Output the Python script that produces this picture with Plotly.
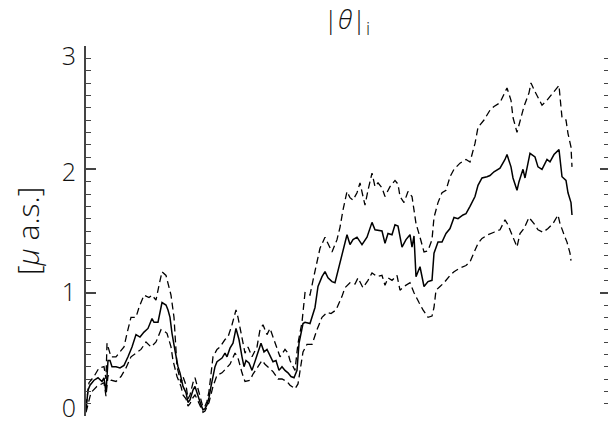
import plotly.graph_objects as go

# x positions are sample steps along the (unlabelled) horizontal axis
center_t = [0,2,4,8,12,16,18,20,22,24,26,30,34,38,42,46,50,54,58,62,66,68,72,76,80,82,84,86,89,92,94,97,100,102,104,107,109,111,113,115,117,119,121,123,125,127,129,131,133,136,139,141,144,147,150,153,156,158,160,163,166,169,172,175,178,181,184,187,190,193,196,199,202,205,208,211,213,215,217,219,224,229,232,236,239,242,246,249,252,256,261,264,267,271,276,281,286,289,296,299,302,306,309,312,316,320,324,326,328,330,334,338,342,346,348,352,356,360,364,368,372,377,380,384,389,392,396,401,404,408,414,419,421,425,427,431,433,437,439,442,444,449,452,456,461,464,468,473,474,476,480,482,485,486]
center_v = [0.05,0.21,0.25,0.29,0.31,0.28,0.31,0.19,0.45,0.45,0.40,0.40,0.39,0.41,0.48,0.56,0.66,0.64,0.68,0.71,0.79,0.76,0.76,0.92,0.90,0.86,0.80,0.67,0.53,0.40,0.35,0.24,0.19,0.11,0.13,0.21,0.24,0.19,0.13,0.09,0.05,0.06,0.09,0.15,0.24,0.32,0.40,0.44,0.45,0.47,0.51,0.48,0.55,0.59,0.71,0.62,0.48,0.40,0.45,0.43,0.37,0.45,0.52,0.59,0.52,0.54,0.49,0.44,0.45,0.37,0.40,0.37,0.35,0.32,0.31,0.37,0.59,0.67,0.75,0.76,0.75,0.88,1.05,1.13,1.17,1.12,1.09,1.08,1.18,1.32,1.47,1.39,1.43,1.45,1.39,1.45,1.57,1.51,1.50,1.40,1.48,1.47,1.55,1.54,1.37,1.43,1.47,1.37,1.46,1.13,1.21,1.05,1.09,1.10,1.32,1.41,1.41,1.48,1.52,1.61,1.60,1.63,1.64,1.70,1.78,1.87,1.93,1.94,1.95,1.98,2.01,2.08,2.12,2.02,1.93,1.83,1.90,2.00,1.93,2.05,2.13,2.10,2.02,2.00,2.08,2.06,2.12,2.16,2.08,1.94,1.91,1.81,1.73,1.63]

upper_t = [0,3,8,13,18,20,21,25,30,33,38,41,45,50,53,58,63,66,70,73,76,80,83,85,88,91,95,97,100,102,104,107,109,111,113,115,117,119,121,123,127,131,134,139,142,146,150,152,156,159,162,166,171,174,177,181,184,187,191,194,199,202,204,209,212,216,219,224,227,231,234,239,242,246,251,254,257,261,264,267,271,274,277,279,282,286,289,292,296,299,304,309,312,314,318,322,326,330,334,338,342,346,348,352,356,360,364,368,374,380,384,389,392,398,404,408,414,419,421,425,427,431,434,438,443,445,449,452,456,461,464,468,473,474,476,480,482,485,486]
upper_v = [0.08,0.27,0.32,0.39,0.40,0.30,0.59,0.48,0.48,0.51,0.56,0.67,0.80,0.80,0.88,0.98,0.96,0.98,0.94,1.06,1.17,1.14,1.05,0.98,0.80,0.40,0.27,0.32,0.25,0.14,0.17,0.27,0.31,0.25,0.17,0.12,0.07,0.08,0.12,0.20,0.48,0.54,0.56,0.62,0.64,0.74,0.86,0.80,0.62,0.51,0.56,0.48,0.56,0.70,0.74,0.66,0.71,0.64,0.54,0.48,0.54,0.51,0.45,0.37,0.59,0.76,1.00,0.98,1.10,1.24,1.36,1.45,1.40,1.33,1.43,1.53,1.67,1.82,1.77,1.75,1.81,1.89,1.78,1.71,1.83,1.97,1.86,1.89,1.85,1.78,1.86,1.91,1.88,1.78,1.73,1.82,1.78,1.56,1.45,1.33,1.34,1.43,1.61,1.73,1.81,1.83,1.94,2.00,2.05,2.08,2.06,2.21,2.34,2.40,2.48,2.51,2.54,2.62,2.66,2.56,2.42,2.30,2.40,2.51,2.62,2.70,2.63,2.58,2.52,2.56,2.59,2.63,2.68,2.59,2.42,2.40,2.29,2.18,2.02]

lower_t = [0,5,11,18,20,22,25,30,35,40,45,50,55,60,65,70,75,78,81,85,87,91,95,97,100,102,104,107,109,111,113,115,117,119,121,123,127,131,136,141,144,149,152,156,159,164,167,172,176,179,182,187,192,196,201,204,209,212,217,221,226,231,236,241,245,250,256,259,264,269,272,277,282,286,291,296,299,302,306,311,314,318,324,328,333,337,342,346,348,350,354,358,364,368,374,380,384,389,392,396,402,408,414,419,422,426,431,434,438,443,448,452,457,462,467,472,474,479,481,484,485]
lower_v = [0.03,0.19,0.24,0.27,0.16,0.33,0.29,0.28,0.32,0.39,0.48,0.51,0.54,0.60,0.56,0.60,0.70,0.69,0.67,0.56,0.45,0.32,0.24,0.17,0.14,0.08,0.10,0.15,0.17,0.14,0.10,0.06,0.03,0.04,0.07,0.11,0.24,0.33,0.35,0.39,0.42,0.51,0.47,0.35,0.28,0.29,0.34,0.40,0.45,0.42,0.40,0.36,0.30,0.30,0.28,0.25,0.22,0.26,0.52,0.58,0.58,0.70,0.80,0.84,0.83,0.86,0.97,1.04,1.08,1.07,1.12,1.04,1.10,1.16,1.13,1.14,1.06,1.12,1.10,1.14,1.02,1.05,1.08,1.00,0.92,0.86,0.80,0.81,0.88,1.02,1.05,1.08,1.14,1.17,1.20,1.22,1.25,1.35,1.40,1.44,1.47,1.49,1.51,1.59,1.55,1.47,1.37,1.48,1.52,1.61,1.56,1.51,1.49,1.52,1.56,1.63,1.56,1.45,1.41,1.32,1.26]

y_ticks = [0, 1, 2, 3]
y_ticklabels = ["0", "1", "2", "3"]
title_text = "|<i>θ</i>|<sub>i</sub>"
ylabel_text = "[<i>μ</i> a.s.]"

# label placement: end labels are tucked inside the axis span (layout styling)
LABEL_NUDGE = [0.065, 0.0, -0.02, -0.08]
label_pos = [v + d for v, d in zip(y_ticks, LABEL_NUDGE)]

FONT = "Open Sans"
W = 300
AX = "#444"
fig = go.Figure()
fig.add_trace(go.Scatter(x=upper_t, y=upper_v, mode="lines",
                         line=dict(color="black", width=1.3, dash="7px,4px"), showlegend=False))
fig.add_trace(go.Scatter(x=lower_t, y=lower_v, mode="lines",
                         line=dict(color="black", width=1.3, dash="7px,4px"), showlegend=False))
fig.add_trace(go.Scatter(x=center_t, y=center_v, mode="lines",
                         line=dict(color="black", width=1.5), showlegend=False))
# helper traces for the right-hand tick axis and the label axis
fig.add_trace(go.Scatter(x=[None], y=[None], yaxis="y2", showlegend=False, hoverinfo="skip"))
fig.add_trace(go.Scatter(x=[None], y=[None], yaxis="y3", showlegend=False, hoverinfo="skip"))

fig.update_layout(
    width=608, height=426,
    margin=dict(l=86, r=0, t=46, b=10),
    paper_bgcolor="white", plot_bgcolor="white",
    font=dict(family=FONT, color="black", size=24, weight=W),
    xaxis=dict(visible=False, range=[0, 522]),
    yaxis=dict(range=[0, 3], tickvals=y_ticks, showticklabels=False,
               ticks="inside", ticklen=10, tickwidth=1.5, tickcolor=AX,
               showline=True, linecolor=AX, linewidth=1.5,
               showgrid=False, zeroline=False,
               minor=dict(dtick=0.1, ticks="inside", ticklen=5, tickwidth=1.2, tickcolor=AX, showgrid=False)),
    yaxis3=dict(range=[0, 3], overlaying="y", side="left", tickvals=label_pos, ticktext=y_ticklabels,
                ticks="", showline=False, showgrid=False, zeroline=False,
                tickfont=dict(family=FONT, size=25, color="#111", weight=W),
                ticklabelstandoff=9, ticklabeloverflow="allow"),
    yaxis2=dict(range=[0, 3], overlaying="y", side="right", tickvals=y_ticks,
                showticklabels=False, ticks="inside", ticklen=8, tickwidth=1.5, tickcolor=AX,
                showline=False, showgrid=False, zeroline=False,
                minor=dict(dtick=0.1, ticks="inside", ticklen=4, tickwidth=1.2, tickcolor=AX, showgrid=False)),
    title=dict(text=title_text, x=347/608, xanchor="center", y=1-20/426, yanchor="middle",
               font=dict(family=FONT, size=26, color="#111", weight=W)),
    annotations=[dict(text=ylabel_text, textangle=-90, xref="paper", yref="paper",
                      x=(27-86)/522, y=0.5, xanchor="center", yanchor="middle", showarrow=False,
                      font=dict(family=FONT, size=30, color="#111", weight=W))],
)
fig.write_html("out.html")
